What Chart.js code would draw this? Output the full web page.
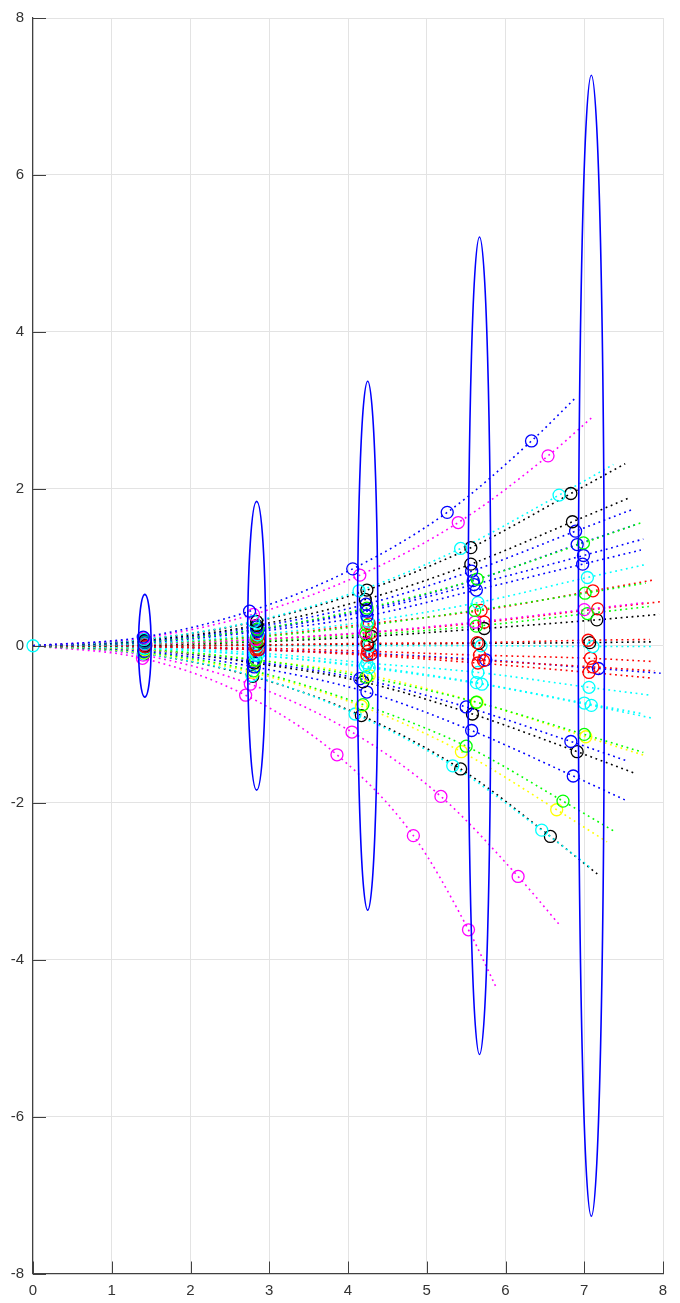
<!DOCTYPE html>
<html>
<head>
<meta charset="utf-8">
<script src="https://cdn.jsdelivr.net/npm/chart.js@4.4.1/dist/chart.umd.min.js"></script>
<style>
  html, body { margin: 0; padding: 0; background: #fff; }
  #chart { display: block; }
</style>
</head>
<body>
<canvas id="chart" width="680" height="1303"></canvas>
<script>
// colour code of each trajectory (MATLAB letters)
const curveColors = ['b','m','c','k','k','b','g','b','b','b','c','g','r','m','g','r','k','r','k','c',
                     'r','r','b','r','c','c','c','g','y','b','k','b','g','y','c','k','m','m'];

// marker positions at each step, one entry per trajectory
const step1X = [1.40,1.41,1.41,1.42,1.42,1.42,1.42,1.42,1.42,1.42,1.42,1.42,1.43,1.42,1.42,1.43,1.43,1.41,1.42,1.42,
                1.42,1.43,1.43,1.42,1.42,1.41,1.42,1.42,1.42,1.41,1.41,1.41,1.41,1.41,1.40,1.41,1.40,1.39];
const step1Y = [0.11,0.10,0.08,0.08,0.07,0.06,0.05,0.05,0.05,0.04,0.03,0.03,0.03,0.02,0.02,0.02,0.01,0.00,0.00,0.00,
                -0.01,-0.01,-0.01,-0.01,-0.02,-0.03,-0.03,-0.04,-0.05,-0.05,-0.05,-0.07,-0.08,-0.09,-0.10,-0.10,-0.12,-0.16];
const step2X = [2.75,2.80,2.80,2.84,2.84,2.84,2.85,2.84,2.85,2.85,2.85,2.84,2.86,2.83,2.84,2.87,2.87,2.83,2.83,2.85,
                2.84,2.86,2.87,2.83,2.83,2.82,2.85,2.83,2.83,2.79,2.81,2.81,2.80,2.79,2.78,2.79,2.76,2.70];
const step2Y = [0.44,0.40,0.31,0.31,0.26,0.24,0.21,0.21,0.20,0.18,0.14,0.11,0.12,0.08,0.06,0.08,0.05,0.01,0.01,0.00,
                -0.03,-0.05,-0.05,-0.05,-0.09,-0.12,-0.12,-0.18,-0.18,-0.20,-0.22,-0.27,-0.32,-0.34,-0.38,-0.39,-0.49,-0.63];
const step3X = [4.06,4.15,4.14,4.24,4.22,4.23,4.24,4.23,4.24,4.24,4.25,4.24,4.27,4.22,4.23,4.30,4.30,4.24,4.25,4.27,
                4.25,4.29,4.30,4.24,4.24,4.22,4.27,4.23,4.27,4.15,4.19,4.24,4.19,4.17,4.09,4.17,4.05,3.86];
const step3Y = [0.98,0.90,0.70,0.71,0.59,0.53,0.48,0.46,0.44,0.38,0.31,0.26,0.28,0.17,0.14,0.17,0.12,0.03,0.02,0.00,
                -0.07,-0.11,-0.10,-0.12,-0.22,-0.26,-0.28,-0.40,-0.38,-0.42,-0.46,-0.59,-0.75,-0.77,-0.87,-0.89,-1.10,-1.39];
const step4X = [5.26,5.40,5.43,5.56,5.56,5.57,5.64,5.59,5.60,5.63,5.65,5.61,5.69,5.61,5.63,5.73,5.73,5.64,5.66,5.69,
                5.67,5.72,5.75,5.65,5.65,5.63,5.70,5.63,5.64,5.50,5.58,5.57,5.50,5.44,5.33,5.43,5.18,4.83];
const step4Y = [1.70,1.57,1.24,1.25,1.04,0.95,0.85,0.83,0.78,0.71,0.55,0.45,0.45,0.30,0.25,0.30,0.22,0.04,0.03,0.00,
                -0.12,-0.19,-0.18,-0.22,-0.34,-0.47,-0.49,-0.72,-0.72,-0.78,-0.87,-1.08,-1.28,-1.35,-1.53,-1.57,-1.92,-2.42];
const step5X = [6.33,6.54,6.68,6.83,6.85,6.89,6.99,6.91,6.99,6.98,7.04,7.01,7.11,7.00,7.04,7.17,7.16,7.05,7.07,7.11,
                7.08,7.11,7.18,7.06,7.06,7.00,7.09,7.00,7.02,6.83,6.91,6.86,6.73,6.65,6.46,6.57,6.16,5.53];
const step5Y = [2.61,2.42,1.92,1.94,1.58,1.46,1.31,1.29,1.15,1.04,0.87,0.67,0.70,0.46,0.41,0.47,0.33,0.07,0.04,-0.01,
                -0.16,-0.27,-0.29,-0.34,-0.53,-0.73,-0.76,-1.13,-1.16,-1.22,-1.35,-1.66,-1.98,-2.09,-2.35,-2.43,-2.94,-3.62];
// where each dotted trajectory stops
const endX = [6.88,7.11,7.37,7.52,7.56,7.62,7.73,7.64,7.75,7.72,7.80,7.78,7.89,7.77,7.82,7.96,7.95,7.83,7.85,7.89,
              7.86,7.89,7.97,7.84,7.84,7.76,7.85,7.75,7.77,7.55,7.63,7.55,7.39,7.29,7.07,7.18,6.68,5.88];
const endY = [3.15,2.92,2.31,2.32,1.88,1.74,1.57,1.54,1.36,1.22,1.04,0.80,0.84,0.55,0.50,0.56,0.40,0.08,0.05,-0.01,
              -0.20,-0.32,-0.35,-0.41,-0.63,-0.87,-0.92,-1.36,-1.40,-1.47,-1.62,-1.98,-2.37,-2.50,-2.82,-2.92,-3.55,-4.35];

// covariance ellipses at each step
const ellipseX  = [1.42, 2.84, 4.25, 5.67, 7.09];
const ellipseY  = [0, 0, 0, 0, 0];
const ellipseRx = [0.08, 0.115, 0.13, 0.145, 0.165];
const ellipseRy = [0.655, 1.84, 3.37, 5.21, 7.27];

const xTicks = [0, 1, 2, 3, 4, 5, 6, 7, 8];
const yTicks = [-8, -6, -4, -2, 0, 2, 4, 6, 8];

const palette = { b: '#0000ff', m: '#ff00ff', c: '#00ffff', k: '#000000', g: '#00ff00', y: '#ffff00', r: '#ff0000' };
const stepsX = [step1X, step2X, step3X, step4X, step5X];
const stepsY = [step1Y, step2Y, step3Y, step4Y, step5Y];

const datasets = [];
curveColors.forEach((c, i) => {
  const col = palette[c];
  const markers = stepsX.map((sx, k) => ({ x: sx[i], y: stepsY[k][i] }));
  const path = [{ x: 0, y: 0 }, ...markers, { x: endX[i], y: endY[i] }];
  datasets.push({
    data: path, showLine: true, borderColor: col, borderWidth: 1.6,
    borderDash: [1.8, 3.7], pointRadius: 0, cubicInterpolationMode: 'monotone', order: 2
  });
  datasets.push({
    data: markers, showLine: false, pointRadius: 6, pointBorderWidth: 1.3,
    pointBorderColor: col, pointBackgroundColor: 'rgba(0,0,0,0)', clip: false, order: 1
  });
});
// starting point
datasets.push({
  data: [{ x: 0, y: 0 }], showLine: false, pointRadius: 6, pointBorderWidth: 1.3,
  pointBorderColor: palette.c, pointBackgroundColor: 'rgba(0,0,0,0)', clip: false, order: 0
});

const ellipsePlugin = {
  id: 'ellipses',
  afterDatasetsDraw(chart) {
    const { ctx, scales: { x, y } } = chart;
    ctx.save();
    ctx.strokeStyle = '#0000ff';
    ctx.lineWidth = 1.6;
    ellipseX.forEach((cx, i) => {
      const px = x.getPixelForValue(cx);
      const py = y.getPixelForValue(ellipseY[i]);
      const rx = Math.abs(x.getPixelForValue(cx + ellipseRx[i]) - px);
      const ry = Math.abs(y.getPixelForValue(ellipseY[i] + ellipseRy[i]) - py);
      ctx.beginPath();
      ctx.ellipse(px, py, rx, ry, 0, 0, Math.PI * 2);
      ctx.stroke();
    });
    ctx.restore();
  }
};

// MATLAB style ticks pointing into the axes
const innerTicks = {
  id: 'innerTicks',
  afterDatasetsDraw(chart) {
    const { ctx, chartArea: a, scales: { x, y } } = chart;
    ctx.save();
    ctx.strokeStyle = '#404040';
    ctx.lineWidth = 1;
    ctx.beginPath();
    xTicks.forEach(v => {
      const px = Math.round(x.getPixelForValue(v)) + 0.5;
      ctx.moveTo(px, a.bottom);
      ctx.lineTo(px, a.bottom - 12);
    });
    yTicks.forEach(v => {
      const py = Math.round(y.getPixelForValue(v)) + 0.5;
      ctx.moveTo(a.left, py);
      ctx.lineTo(a.left + 13, py);
    });
    ctx.stroke();
    ctx.restore();
  }
};

const tickFont = { family: "'Liberation Sans', Arial, sans-serif", size: 15 };

new Chart(document.getElementById('chart'), {
  type: 'scatter',
  data: { datasets },
  options: {
    responsive: false,
    animation: false,
    devicePixelRatio: 1,
    layout: { padding: { top: 13, right: 17, left: 0, bottom: 0 } },
    plugins: { legend: { display: false }, tooltip: { enabled: false } },
    scales: {
      x: {
        type: 'linear', min: 0, max: 8,
        afterBuildTicks: s => { s.ticks = xTicks.map(v => ({ value: v })); },
        afterFit: s => { s.height = 29.5; },
        ticks: { font: tickFont, color: '#333333', padding: 8, maxRotation: 0 },
        grid: { color: '#e3e3e3', drawTicks: false },
        border: { color: '#404040', width: 1.2 }
      },
      y: {
        type: 'linear', min: -8, max: 8,
        afterBuildTicks: s => { s.ticks = yTicks.map(v => ({ value: v })); },
        afterFit: s => { s.width = 33; },
        ticks: { font: tickFont, color: '#333333', padding: 9 },
        grid: { color: '#e3e3e3', drawTicks: false },
        border: { color: '#404040', width: 1.2 }
      }
    }
  },
  plugins: [ellipsePlugin, innerTicks]
});
</script>
</body>
</html>
